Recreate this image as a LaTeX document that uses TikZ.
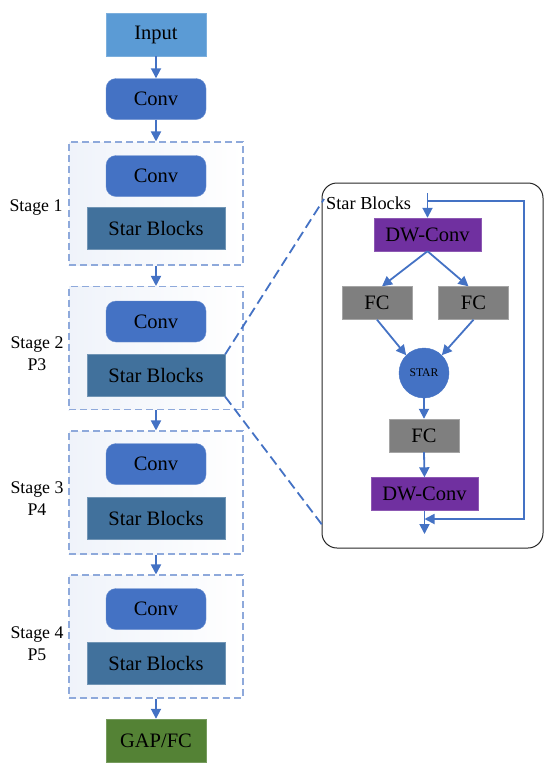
\documentclass[tikz,border=0pt]{standalone}
\usepackage{fontspec}
\setmainfont{Liberation Serif}
\usetikzlibrary{arrows.meta,calc,shapes.geometric}
\definecolor{inblue}{HTML}{5B9BD5}
\definecolor{convblue}{HTML}{4472C4}
\definecolor{sbblue}{HTML}{41719C}
\definecolor{gapgreen}{HTML}{548235}
\definecolor{dwpurple}{HTML}{7030A0}
\definecolor{fcgray}{HTML}{7F7F7F}
\definecolor{stageline}{HTML}{8EA9DB}
\definecolor{arrowblue}{HTML}{4472C4}
\tikzset{
  big/.style={font=\fontsize{20.5}{24}\selectfont},
  inputbox/.style={big, fill=inblue, draw=inblue!80!white, minimum width=100pt, minimum height=43pt, inner sep=0pt},
  convbox/.style={big, fill=convblue, draw=convblue!80!white, rounded corners=10pt, minimum width=100pt, minimum height=41pt, inner sep=0pt},
  sbbox/.style={big, fill=sbblue, draw=sbblue!75!white, minimum width=138pt, minimum height=42pt, inner sep=0pt},
  gapbox/.style={big, fill=gapgreen, draw=gapgreen!80!white, minimum width=100pt, minimum height=43pt, inner sep=0pt},
  stagebox/.style={draw=stageline, dash pattern=on 7pt off 4pt, line width=1.1pt, left color=stageline!14!white, right color=white, minimum width=174pt, minimum height=123pt, inner sep=0pt},
  stagelabel/.style={font=\fontsize{17.8}{22}\selectfont, align=center},
  dwbox/.style={big, fill=dwpurple, draw=dwpurple!80!white, minimum width=107pt, minimum height=33pt, inner sep=0pt},
  fcbox/.style={big, fill=fcgray, draw=fcgray!70!white, minimum width=70pt, minimum height=33pt, inner sep=0pt},
  starnode/.style={circle, fill=convblue, draw=convblue, minimum size=50pt, inner sep=0pt, font=\fontsize{11.7}{13}\selectfont},
  flow/.style={draw=arrowblue, line width=1.8pt, -{Triangle[length=10pt,width=10pt]}},
  zoomline/.style={draw=arrowblue, line width=1.8pt, dash pattern=on 10pt off 5pt},
}
\begin{document}
\begin{tikzpicture}[x=1pt,y=-1pt]
\useasboundingbox (0,0) rectangle (550,772);
% main column
\node[inputbox] (input) at (156,34.5) {Input};
\node[convbox] (conv0) at (156,99) {Conv};
% stages
\node[stagebox] (s1) at (156,203.5) {};
\node[stagebox] (s2) at (156,348) {};
\node[stagebox] (s3) at (156,492.5) {};
\node[stagebox] (s4) at (156,636.5) {};
\node[convbox] (c1) at (156,176) {Conv};
\node[sbbox] (b1) at (156,228.5) {Star Blocks};
\node[convbox] (c2) at (156,321.5) {Conv};
\node[sbbox] (b2) at (156,375.5) {Star Blocks};
\node[convbox] (c3) at (156,464) {Conv};
\node[sbbox] (b3) at (156,518.5) {Star Blocks};
\node[convbox] (c4) at (156,609) {Conv};
\node[sbbox] (b4) at (156,663) {Star Blocks};
\node[gapbox] (gap) at (156,740.5) {GAP/FC};
% stage labels
\node[stagelabel] (l1) at (36,208) {Stage 1};
\node[stagelabel] (l2) at (37,354) {Stage 2\\P3};
\node[stagelabel] (l3) at (37,499) {Stage 3\\P4};
\node[stagelabel] (l4) at (37,644) {Stage 4\\P5};
% main arrows
\draw[flow] (input.south) -- (conv0.north);
\draw[flow] (conv0.south) -- (s1.north);
\draw[flow] (s1.south) -- (s2.north);
\draw[flow] (s2.south) -- (s3.north);
\draw[flow] (s3.south) -- (s4.north);
\draw[flow] (s4.south) -- (gap.north);
% right panel
\node[draw=black!85, line width=1pt, rounded corners=15pt, minimum width=221pt, minimum height=365pt, inner sep=0pt] (panel) at (432.5,365.5) {};
\node[font=\fontsize{18.3}{22}\selectfont, anchor=west, inner sep=0pt] (sblabel) at (326,203) {Star Blocks};
\node[dwbox] (dw1) at (427.5,234.5) {DW-Conv};
\node[fcbox] (fcl) at (377,303) {FC};
\node[fcbox] (fcr) at (473.5,303) {FC};
\node[starnode] (star) at (424,373) {STAR};
\node[fcbox] (fcb) at (424,435.5) {FC};
\node[dwbox] (dw2) at (424.5,494) {DW-Conv};
\coordinate (top) at (427.5,193);
\coordinate (loopa) at (427.5,201);
\coordinate (loopb) at (524,201);
\coordinate (loopc) at (524,519);
\coordinate (loopd) at (424.5,519);
\coordinate (out) at (424.5,534);
\draw[flow] (top) -- (dw1.north);
\draw[flow] (dw1.south) -- ([xshift=5pt]fcl.north);
\draw[flow] (dw1.south) -- ([xshift=-5pt]fcr.north);
\draw[flow] (fcl.south) -- (star.135);
\draw[flow] (fcr.south) -- (star.45);
\draw[flow] (star.south) -- (fcb.north);
\draw[flow] (fcb.south) -- (dw2.north);
\draw[flow] (dw2.south) -- (out);
\draw[flow] (loopa) -- (loopb) -- (loopc) -- (loopd);
% zoom lines
\coordinate (za) at (324,199);
\coordinate (zb) at (323,526);
\draw[zoomline] (b2.north east) -- (za);
\draw[zoomline] (b2.south east) -- (zb);
\end{tikzpicture}
\end{document}
